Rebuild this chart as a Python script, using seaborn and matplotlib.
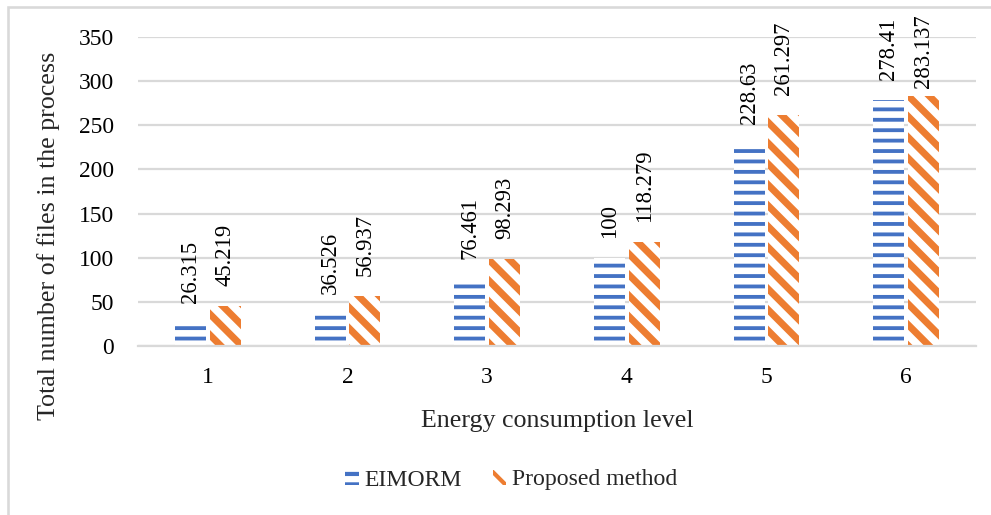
import numpy as np
import pandas as pd
import seaborn as sns
import matplotlib.pyplot as plt
from matplotlib.patches import Rectangle, Patch

# Data
levels = ["1", "2", "3", "4", "5", "6"]
eimorm = [26.315, 36.526, 76.461, 100, 228.63, 278.41]
proposed = [45.219, 56.937, 98.293, 118.279, 261.297, 283.137]
series_names = ["EIMORM", "Proposed method"]
y_ticks = [0, 50, 100, 150, 200, 250, 300, 350]

BLUE = "#4472C4"
ORANGE = "#ED7D31"
GRID = "#D9D9D9"
FS_TICK = 13.5
FS_LABEL = 13
FS_TITLE = 15
FS_LEG = 13.7

df = pd.DataFrame({
    "level": levels * 2,
    "value": eimorm + proposed,
    "method": [series_names[0]] * len(levels) + [series_names[1]] * len(levels),
})

sns.set_style("white")
plt.rcParams["font.family"] = ["Liberation Serif", "DejaVu Serif"]
plt.rcParams["hatch.linewidth"] = 2.4

W, H, DPI = 991, 515, 125
fig = plt.figure(figsize=(W / DPI, H / DPI), dpi=DPI)
ax = fig.add_axes([138 / W, 1 - 346 / H, (976 - 138) / W, 309 / H])

sns.barplot(data=df, x="level", y="value", hue="method",
            palette=[BLUE, ORANGE], width=0.5, gap=0.114,
            legend=False, ax=ax)

# (colour, hatch pattern, hatch line width in points)
styles = [(BLUE, "--", 2.2), (ORANGE, "\\\\", 4.0)]


def style_patch(p, col, hatch, hlw):
    p.set_facecolor("white")
    p.set_edgecolor(col)
    p.set_linewidth(0)
    p.set_hatch(hatch)
    if hasattr(p, "set_hatch_linewidth"):
        p.set_hatch_linewidth(hlw)


value_labels = []
for cont, (col, hatch, hlw), vals in zip(ax.containers, styles, [eimorm, proposed]):
    for bar in cont:
        style_patch(bar, col, hatch, hlw)
    value_labels += ax.bar_label(cont, labels=[f"{v:g}" for v in vals], rotation=90,
                                 padding=11.5, fontsize=FS_LABEL, color="black")

ax.set_ylim(0, 350)
ax.set_yticks(y_ticks)
ax.set_axisbelow(True)
ax.yaxis.grid(True, color=GRID, linewidth=1.3)
ax.xaxis.grid(False)
for side in ["left", "right", "top"]:
    ax.spines[side].set_visible(False)
ax.spines["bottom"].set_color(GRID)
ax.spines["bottom"].set_linewidth(1.3)
ax.tick_params(axis="both", length=0, labelsize=FS_TICK, colors="black")
ax.tick_params(axis="y", pad=14)
ax.tick_params(axis="x", pad=12)

ax.set_xlabel("Energy consumption level", fontsize=FS_TITLE)
ax.set_ylabel("Total number of files in the process", fontsize=FS_TITLE)
ax.xaxis.set_label_coords(0.5, (346 - 410) / 309)
ax.yaxis.set_label_coords((60 - 138) / 838, (346 - 236) / 309)

handles = []
for col, hatch, hlw in styles:
    h = Patch()
    style_patch(h, col, hatch, hlw)
    handles.append(h)
fig.legend(handles, series_names, loc="center", bbox_to_anchor=(0.516, 1 - 480 / H),
           ncol=2, frameon=False, fontsize=FS_LEG, handlelength=0.55, handleheight=0.6,
           handletextpad=0.25, columnspacing=1.3)

# outer chart frame
fig.add_artist(Rectangle((8 / W, -0.1), 1.2, (1 - 7 / H) + 0.1,
                         transform=fig.transFigure, fill=False,
                         edgecolor=GRID, linewidth=1.5))

# keep value labels inside the chart area: slide any label that runs
# past the top margin back down toward its bar
fig.canvas.draw()
renderer = fig.canvas.get_renderer()
top_limit = H - 14
for t in value_labels:
    bb = t.get_window_extent(renderer)
    if bb.y1 > top_limit:
        dx, dy = t.xyann
        t.xyann = (dx, dy - (bb.y1 - top_limit) * 72 / DPI)

fig.savefig("out.png", dpi=DPI)
